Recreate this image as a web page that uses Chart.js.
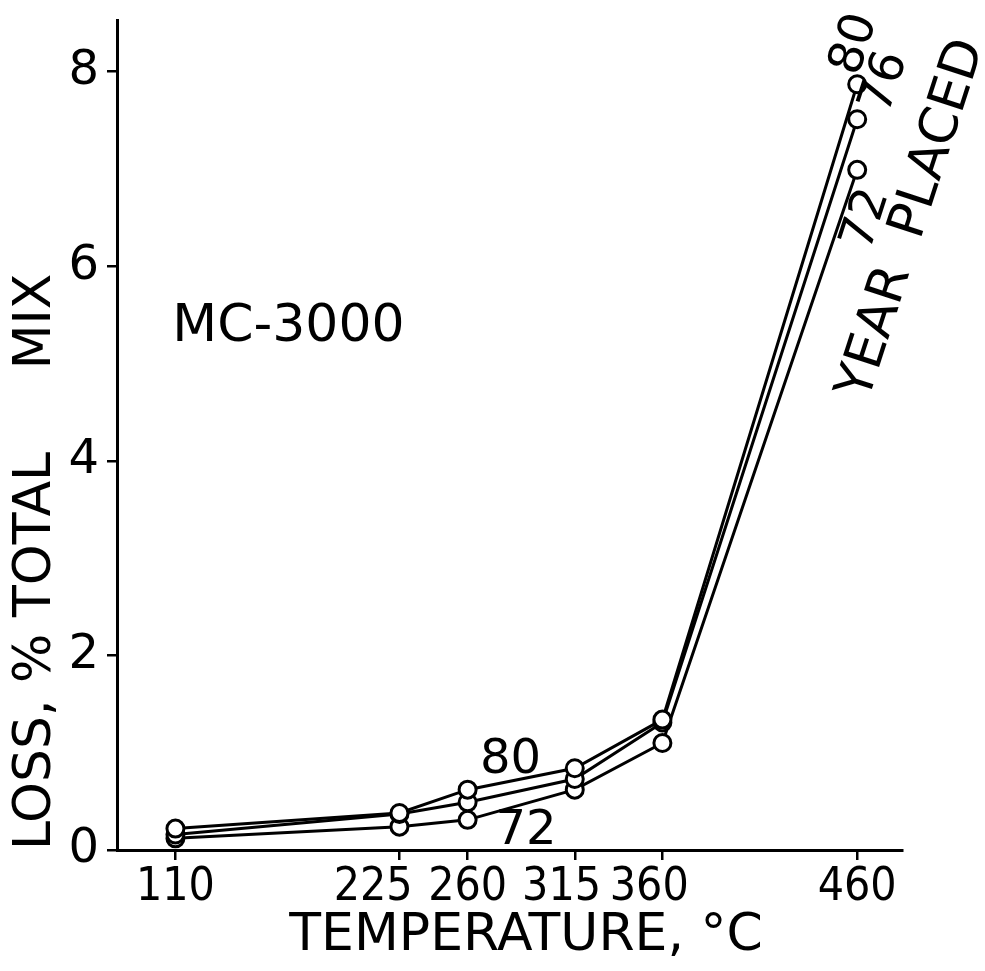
<!DOCTYPE html>
<html>
<head>
<meta charset="utf-8">
<title>MC-3000 loss vs temperature</title>
<script src="https://cdn.jsdelivr.net/npm/chart.js@4.4.1/dist/chart.umd.min.js"></script>
<style>
  html, body { margin: 0; padding: 0; background: #fff; }
  #wrap { width: 985px; height: 971px; }
</style>
</head>
<body>
<div id="wrap"><canvas id="chart"></canvas></div>
<script>
// values
const temperatures = [110, 225, 260, 315, 360, 460];
const loss80 = [0.22, 0.38, 0.62, 0.84, 1.34, 7.87];
const loss76 = [0.16, 0.37, 0.49, 0.73, 1.31, 7.51];
const loss72 = [0.12, 0.24, 0.31, 0.62, 1.10, 6.99];
const yTicks = [0, 2, 4, 6, 8];

// the crowded tick labels sit a little left of their ticks in the original
const labelPad = { 225: '\u2007\u2007', 315: '\u2007', 360: '\u2007' };

// hand lettering on the plot, placed in data units
const notes = [
  { text: 'MC-3000', x: 168, y: 5.375, angle: 0, size: 52 },
  { text: '80', x: 282, y: 0.92, angle: 0, size: 48 },
  { text: '72', x: 290, y: 0.19, angle: 0, size: 48 },
  { text: '80', x: 459, y: 8.28, angle: -72, size: 48 },
  { text: '76', x: 474.5, y: 7.89, angle: -72, size: 48 },
  { text: '72', x: 465, y: 6.48, angle: -72, size: 48 },
  { text: 'YEAR  PLACED', x: 488.5, y: 6.48, angle: -72, size: 52 }
];

const FONT = "'DejaVu Sans', sans-serif";
const NARROW = "'DejaVu Sans Condensed', 'Liberation Sans Narrow', 'DejaVu Sans', sans-serif";

const toPoints = arr => arr.map((v, i) => ({ x: temperatures[i], y: v }));

const series = (label, arr) => ({
  label: label,
  data: toPoints(arr),
  borderColor: '#000',
  borderWidth: 3,
  pointRadius: 8.5,
  pointBorderWidth: 3,
  pointBackgroundColor: '#fff',
  pointBorderColor: '#000',
  tension: 0
});

const lettering = {
  id: 'lettering',
  afterDatasetsDraw(chart) {
    const { ctx, scales: { x, y } } = chart;
    ctx.save();
    ctx.fillStyle = '#000';
    ctx.textAlign = 'center';
    ctx.textBaseline = 'middle';
    notes.forEach(n => {
      ctx.save();
      ctx.translate(x.getPixelForValue(n.x), y.getPixelForValue(n.y));
      ctx.rotate(n.angle * Math.PI / 180);
      ctx.font = n.size + 'px ' + FONT;
      ctx.fillText(n.text, 0, 0);
      ctx.restore();
    });
    ctx.restore();
  }
};

new Chart(document.getElementById('chart'), {
  type: 'line',
  data: {
    datasets: [series('80', loss80), series('76', loss76), series('72', loss72)]
  },
  options: {
    responsive: true,
    maintainAspectRatio: false,
    animation: false,
    layout: { padding: { top: 20, right: 83, left: 0, bottom: 0 } },
    plugins: { legend: { display: false }, tooltip: { enabled: false } },
    scales: {
      x: {
        type: 'linear',
        min: 80,
        max: 483,
        afterBuildTicks: s => { s.ticks = temperatures.map(v => ({ value: v })); },
        afterFit: s => { s.height = 121; },
        grid: { drawOnChartArea: false, drawTicks: true, tickLength: 10, color: '#000', lineWidth: 2.5 },
        border: { display: true, color: '#000', width: 3 },
        ticks: {
          autoSkip: false,
          maxRotation: 0,
          padding: 0,
          color: '#000',
          font: { family: NARROW, size: 46 },
          callback: v => String(v) + (labelPad[v] || '')
        },
        title: {
          display: true,
          text: '  TEMPERATURE, °C',
          color: '#000',
          font: { family: FONT, size: 52 },
          padding: { top: 0, bottom: 3 }
        }
      },
      y: {
        min: 0,
        max: 8.53,
        afterBuildTicks: s => { s.ticks = yTicks.map(v => ({ value: v })); },
        afterFit: s => { s.width = 117; s.paddingTop = 0; s.paddingBottom = 0; },
        grid: { drawOnChartArea: false, drawTicks: true, tickLength: 10, color: '#000', lineWidth: 2.5 },
        border: { display: true, color: '#000', width: 3 },
        ticks: {
          padding: 8,
          color: '#000',
          font: { family: FONT, size: 48 }
        },
        title: {
          display: true,
          text: 'LOSS, % TOTAL     MIX',
          align: 'start',
          color: '#000',
          font: { family: FONT, size: 52 },
          padding: { top: 5, bottom: 0 }
        }
      }
    }
  },
  plugins: [lettering]
});
</script>
</body>
</html>
